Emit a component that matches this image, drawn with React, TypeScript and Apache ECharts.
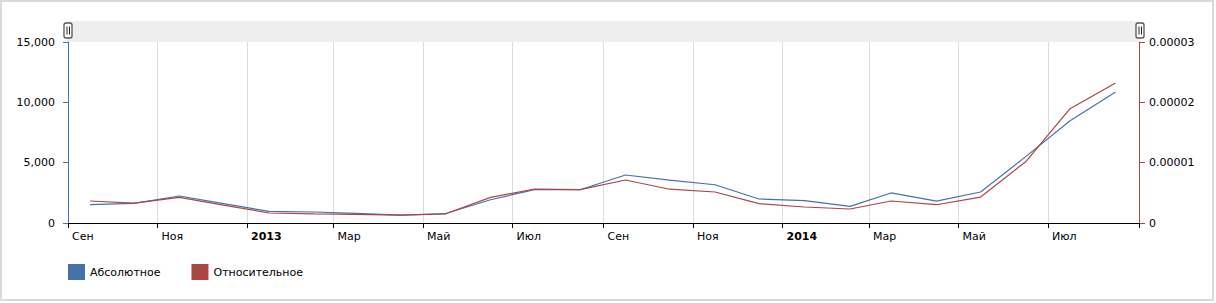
import React, { useEffect, useRef } from 'react';
import * as echarts from 'echarts';

const MONTHS = [
  '2012-09', '2012-10', '2012-11', '2012-12',
  '2013-01', '2013-02', '2013-03', '2013-04', '2013-05', '2013-06',
  '2013-07', '2013-08', '2013-09', '2013-10', '2013-11', '2013-12',
  '2014-01', '2014-02', '2014-03', '2014-04', '2014-05', '2014-06',
  '2014-07', '2014-08',
];
const ABSOLUTE = [
  1520, 1620, 2240, 1610,
  960, 910, 800, 660, 770, 1930,
  2760, 2760, 3980, 3550, 3170, 1990,
  1850, 1380, 2490, 1820, 2570, 5520,
  8480, 10860,
];
const RELATIVE = [
  0.00000365, 0.0000033, 0.00000424, 0.00000297,
  0.00000166, 0.0000015, 0.00000143, 0.0000013, 0.00000149, 0.00000424,
  0.00000563, 0.00000552, 0.00000713, 0.0000056, 0.00000514, 0.0000032,
  0.00000265, 0.00000232, 0.00000365, 0.00000303, 0.0000043, 0.0000102,
  0.00001894, 0.0000232,
];
const TICK_DATES = [
  '2012-09-01', '2012-11-01', '2013-01-01', '2013-03-01', '2013-05-01',
  '2013-07-01', '2013-09-01', '2013-11-01', '2014-01-01', '2014-03-01',
  '2014-05-01', '2014-07-01', '2014-09-01',
];
const TICK_LABELS = [
  'Сен', 'Ноя', '2013', 'Мар', 'Май', 'Июл', 'Сен', 'Ноя', '2014', 'Мар', 'Май', 'Июл', '',
];
const YEAR_LABELS = ['2013', '2014'];
const SERIES_NAMES = ['Абсолютное', 'Относительное'];
const COLORS = ['#4572A7', '#AA4643'];

const FONT = 'DejaVu Sans';

function ts(s: string): number {
  const [y, m, d] = s.split('-').map(Number);
  return Date.UTC(y, m - 1, d || 1);
}

function midMonth(s: string): number {
  const [y, m] = s.split('-').map(Number);
  return Date.UTC(y, m - 1, 16);
}

function grip(x: number) {
  return {
    type: 'group',
    x,
    y: 30.5,
    z: 100,
    children: [
      {
        type: 'rect',
        shape: { x: -4, y: -7.5, width: 8, height: 15, r: 2 },
        style: { fill: '#ffffff', stroke: '#555555', lineWidth: 1.3 },
      },
      {
        type: 'line',
        shape: { x1: -1, y1: -4, x2: -1, y2: 4 },
        style: { stroke: '#222222', lineWidth: 1 },
      },
      {
        type: 'line',
        shape: { x1: 1.5, y1: -4, x2: 1.5, y2: 4 },
        style: { stroke: '#222222', lineWidth: 1 },
      },
    ],
  };
}

export default function App() {
  const ref = useRef<HTMLDivElement>(null);

  useEffect(() => {
    document.body.style.margin = '0';
    if (!ref.current) return;
    const chart = echarts.init(ref.current, null, { renderer: 'svg' });
    const tickTs = TICK_DATES.map(ts);
    const labelTs = tickTs.filter((_, i) => TICK_LABELS[i] !== '');

    const option: any = {
      animation: false,
      textStyle: { fontFamily: FONT },
      grid: { left: 68, right: 77, top: 42, bottom: 80, containLabel: false },
      legend: {
        left: 68,
        top: 264,
        padding: 0,
        icon: 'rect',
        itemWidth: 17,
        itemHeight: 16,
        itemGap: 31,
        textStyle: { fontFamily: FONT, fontSize: 11, color: '#000' },
        data: SERIES_NAMES,
      },
      graphic: [
        {
          type: 'rect',
          shape: { x: 1, y: 1, width: 1212, height: 299 },
          style: { fill: 'none', stroke: '#dadada', lineWidth: 2 },
          silent: true,
        },
        {
          type: 'rect',
          shape: { x: 68, y: 21, width: 1071, height: 21 },
          style: { fill: '#eeeeee' },
          silent: true,
        },
        grip(68),
        grip(1140),
      ],
      xAxis: {
        type: 'value',
        min: tickTs[0],
        max: tickTs[tickTs.length - 1],
        axisLine: { show: true, lineStyle: { color: '#000', width: 1 } },
        axisTick: { show: true, customValues: tickTs, length: 5, lineStyle: { color: '#000' } },
        axisLabel: {
          customValues: labelTs,
          align: 'left',
          padding: [0, 0, 0, 4],
          margin: 8,
          color: '#000',
          fontSize: 11,
          fontFamily: FONT,
          showMinLabel: true,
          showMaxLabel: true,
          formatter: (v: number) => {
            const i = tickTs.indexOf(v);
            const lab = i >= 0 ? TICK_LABELS[i] : '';
            return YEAR_LABELS.includes(lab) ? '{b|' + lab + '}' : lab;
          },
          rich: {
            b: { fontWeight: 'bold', fontSize: 11, color: '#000', fontFamily: FONT },
          },
        },
        splitLine: { show: true, lineStyle: { color: '#dcdcdc', width: 1 } },
      },
      yAxis: [
        {
          type: 'value',
          position: 'left',
          min: 0,
          max: 15000,
          interval: 5000,
          axisLine: { show: true, lineStyle: { color: COLORS[0], width: 1 } },
          axisTick: { show: true, length: 5, lineStyle: { color: COLORS[0] } },
          axisLabel: {
            margin: 13,
            color: '#000',
            fontSize: 11,
            fontFamily: FONT,
            formatter: (v: number) => v.toLocaleString('en-US'),
          },
          splitLine: { show: false },
        },
        {
          type: 'value',
          position: 'right',
          min: 0,
          max: 0.00003,
          interval: 0.00001,
          axisLine: { show: true, lineStyle: { color: COLORS[1], width: 1 } },
          axisTick: { show: true, length: 6, lineStyle: { color: COLORS[1] } },
          axisLabel: {
            margin: 10,
            color: '#000',
            fontSize: 11,
            fontFamily: FONT,
            formatter: (v: number) => (v === 0 ? '0' : v.toFixed(5)),
          },
          splitLine: { show: false },
        },
      ],
      series: [
        {
          name: SERIES_NAMES[0],
          type: 'line',
          yAxisIndex: 0,
          symbol: 'none',
          color: COLORS[0],
          lineStyle: { width: 1.2, color: COLORS[0] },
          data: MONTHS.map((m, i) => [midMonth(m), ABSOLUTE[i]]),
        },
        {
          name: SERIES_NAMES[1],
          type: 'line',
          yAxisIndex: 1,
          symbol: 'none',
          color: COLORS[1],
          lineStyle: { width: 1.2, color: COLORS[1] },
          data: MONTHS.map((m, i) => [midMonth(m), RELATIVE[i]]),
        },
      ],
    };
    chart.setOption(option);
    return () => chart.dispose();
  }, []);

  return <div ref={ref} style={{ width: 1216, height: 303 }} />;
}
